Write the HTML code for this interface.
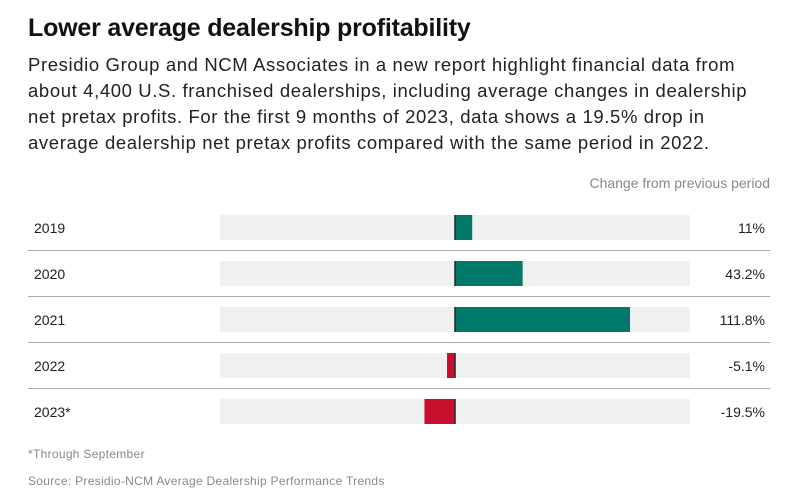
<!DOCTYPE html>
<html><head><meta charset="utf-8"><style>
body{margin:0;width:808px;height:504px;background:#fff;font-family:"Liberation Sans",sans-serif;position:relative;overflow:hidden}
.t{position:absolute;left:28px;top:14px;font-size:25px;font-weight:bold;color:#111;letter-spacing:-0.2px}
.s{position:absolute;left:28px;top:52px;width:750px;font-size:18.5px;line-height:26px;color:#222;letter-spacing:0.62px}
.h{position:absolute;right:38px;top:175px;font-size:14px;color:#888}
.f{position:absolute;left:28px;font-size:12px;color:#888;letter-spacing:0.3px}
</style></head><body>
<div class="t">Lower average dealership profitability</div>
<div class="s">Presidio Group and NCM Associates in a new report highlight financial data from about 4,400 U.S. franchised dealerships, including average changes in dealership net pretax profits. For the first 9 months of 2023, data shows a 19.5% drop in average dealership net pretax profits compared with the same period in 2022.</div>
<div class="h">Change from previous period</div>
<svg id="c" width="808" height="504" style="position:absolute;left:0;top:0"></svg>
<div class="f" style="top:447px">*Through September</div>
<div class="f" style="top:474px">Source: Presidio-NCM Average Dealership Performance Trends</div>
<script>
const categories=["2019","2020","2021","2022","2023*"];
const values=[11,43.2,111.8,-5.1,-19.5];
const valueLabels=["11%","43.2%","111.8%","-5.1%","-19.5%"];
const svg=document.getElementById('c');
const NS='http://www.w3.org/2000/svg';
const zeroX=455, pxPer=(630-455)/111.8;
const x=v=>zeroX+v*pxPer;
const rowY=i=>204+i*46;
function mk(t,a){const e=document.createElementNS(NS,t);for(const k in a)e.setAttribute(k,a[k]);svg.appendChild(e);return e;}
categories.forEach((c,i)=>{
  const y=rowY(i);
  const lab=mk('text',{x:34,y:y+29,'font-size':14,fill:'#222','font-family':'Liberation Sans, sans-serif'});
  lab.textContent=c;
  
  
  const tr=mk('rect',{x:220,y:y+11,width:470,height:25,fill:'#eff0f0'});
  
  
  const v=values[i];
  const b=mk('rect',{x:Math.min(x(v),zeroX),y:y+11,width:Math.abs(x(v)-zeroX),height:25,fill:v>=0?'#00796b':'#c8102e'});
  
  
  const z=mk('rect',{x:zeroX-0.75,y:y+11,width:1.5,height:25,fill:'#222'});
  
  
  const vl=mk('text',{x:765,y:y+29,'font-size':14,fill:'#222','text-anchor':'end','font-family':'Liberation Sans, sans-serif'});
  vl.textContent=valueLabels[i];
  
  
  if(i<categories.length-1){
    const l=mk('rect',{x:28,y:y+46,width:742,height:1,fill:'#aaa'});
    
    
  }
});
</script>
</body></html>
